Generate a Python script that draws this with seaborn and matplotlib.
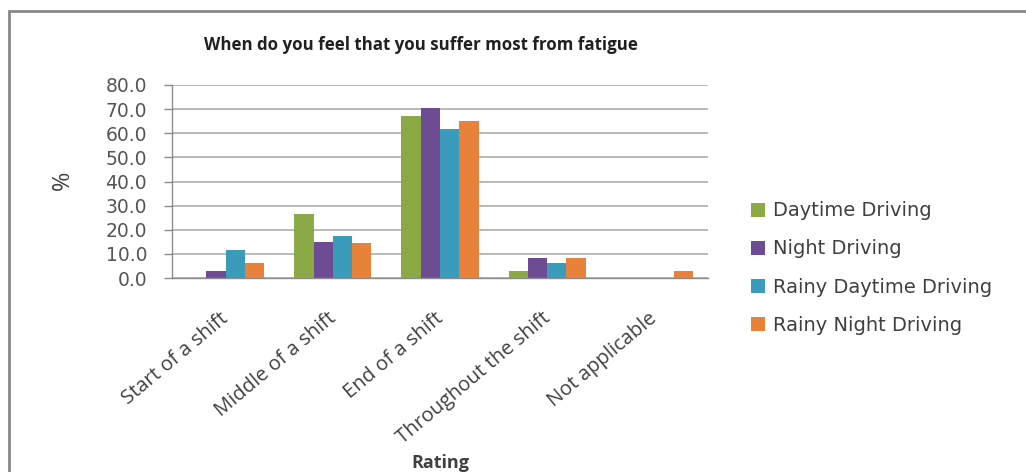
import matplotlib
matplotlib.use("Agg")
import matplotlib.pyplot as plt
import matplotlib.transforms as mtransforms
import seaborn as sns
import pandas as pd
from matplotlib.patches import Rectangle

categories = ["Start of a shift", "Middle of a shift", "End of a shift",
              "Throughout the shift", "Not applicable"]
series = ["Daytime Driving", "Night Driving", "Rainy Daytime Driving", "Rainy Night Driving"]
daytime = [0.0, 26.4, 67.3, 2.8, 0.0]
night = [2.9, 14.9, 70.4, 8.4, 0.0]
rainy_day = [11.6, 17.6, 61.7, 6.1, 0.0]
rainy_night = [6.1, 14.7, 64.9, 8.4, 2.9]
colors = ["#8BAA45", "#6E4C93", "#3A9BBB", "#E8823A"]
yticks = [0, 10, 20, 30, 40, 50, 60, 70, 80]

rows = []
for name, vals in zip(series, [daytime, night, rainy_day, rainy_night]):
    for cat, v in zip(categories, vals):
        rows.append({"Rating": cat, "Series": name, "Percent": v})
df = pd.DataFrame(rows)

sns.set_theme(style="white")
plt.rcParams["font.family"] = ["Open Sans", "DejaVu Sans"]

W, H = 1026, 472
fig = plt.figure(figsize=(W / 100, H / 100), dpi=100)
fig.patch.set_facecolor("white")
ax = fig.add_axes([172 / W, 1 - 278 / H, 536 / W, 193 / H])

sns.barplot(data=df, x="Rating", y="Percent", hue="Series", order=categories,
            hue_order=series, palette=colors, width=0.72, saturation=1,
            edgecolor="none", linewidth=0, ax=ax, legend=True)

ax.set_ylim(0, 80)
ax.set_xlim(-0.5, 4.5)
ax.set_yticks(yticks)
ax.set_yticklabels([f"{t:.1f}" for t in yticks], family="DejaVu Sans",
                   fontsize=13.5, color="#555555")
ax.yaxis.grid(True, color="#A6A6A6", linewidth=1.1)
ax.set_axisbelow(True)
for s in ["top", "right"]:
    ax.spines[s].set_visible(False)
for s in ["left", "bottom"]:
    ax.spines[s].set_color("#8C8C8C")
    ax.spines[s].set_linewidth(1.0)
ax.tick_params(axis="y", which="major", left=True, length=6, color="#8C8C8C",
               width=1.0, pad=12)
ax.tick_params(axis="x", bottom=False, pad=16)
ax.set_xticks(range(len(categories)))
ax.set_xticklabels(categories, rotation=40, ha="right", rotation_mode="anchor",
                   fontsize=14.5, color="#404040")
shift = mtransforms.ScaledTranslation(-0.06, 0, fig.dpi_scale_trans)
for lbl in ax.get_xticklabels():
    lbl.set_transform(lbl.get_transform() + shift)
ax.set_ylabel("")
ax.set_xlabel("")

fig.text(63 / W, 1 - 180 / H, "%", rotation=90, ha="center", va="center",
         fontsize=17, color="#404040")
fig.text(440 / W, 1 - 463 / H, "Rating", ha="center", va="center",
         fontsize=13, fontweight="bold", color="#404040")
fig.text(421 / W, 1 - 45 / H, "When do you feel that you suffer most from fatigue",
         ha="center", va="center", fontsize=12.2, fontweight="bold", color="#202020")

handles, labels = ax.get_legend_handles_labels()
ax.legend(handles, labels, loc="center left", bbox_to_anchor=(733 / W, 1 - 268 / H),
          bbox_transform=fig.transFigure, frameon=False,
          prop={"family": "DejaVu Sans", "size": 14},
          handlelength=0.75, handleheight=0.75, handletextpad=0.4,
          labelspacing=0.98, labelcolor="#404040")

# outer chart border (top and left edges visible within the canvas)
fig.patches.append(Rectangle((9 / W, -0.1), 1.2, 1 - 11 / H + 0.1,
                             transform=fig.transFigure, fill=False,
                             edgecolor="#888888", linewidth=2.0, zorder=10))

fig.savefig("out.png", dpi=100, facecolor="white")
